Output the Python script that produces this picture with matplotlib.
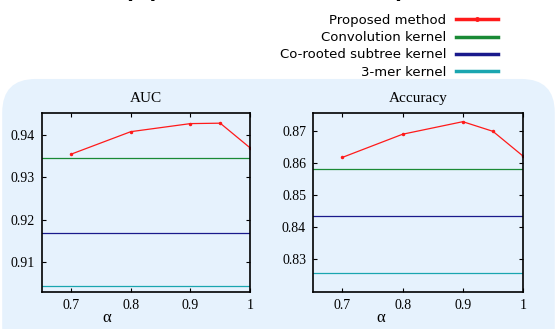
import matplotlib
matplotlib.use('agg')
import matplotlib.pyplot as plt
from matplotlib.patches import FancyBboxPatch
from matplotlib.lines import Line2D

# data
alpha = [0.7, 0.8, 0.9, 0.95, 1.0]
auc_proposed = [0.9355, 0.9408, 0.9427, 0.9428, 0.9370]
auc_conv = 0.9345
auc_corooted = 0.9169
auc_3mer = 0.9044
acc_proposed = [0.8617, 0.8689, 0.8728, 0.8698, 0.8621]
acc_conv = 0.8581
acc_corooted = 0.8435
acc_3mer = 0.8258

auc_ticks = [0.91, 0.92, 0.93, 0.94]
acc_ticks = [0.83, 0.84, 0.85, 0.86, 0.87]
alpha_ticks = [0.7, 0.8, 0.9, 1.0]
alpha_ticklabels = ['0.7', '0.8', '0.9', '1']

labels = ['Proposed method', 'Convolution kernel', 'Co-rooted subtree kernel', '3-mer kernel']
colors = ['#ff1a1a', '#1a8a35', '#1a1a8c', '#1aa6b0']

fig = plt.figure(figsize=(5.57, 3.29), dpi=100)

# light blue rounded panel behind the plots
panel = FancyBboxPatch((0.004, -0.1), 0.992, 0.86, boxstyle='round,pad=0,rounding_size=0.06',
                       transform=fig.transFigure, facecolor='#e6f2fd', edgecolor='none',
                       mutation_aspect=557 / 329, zorder=-5)
fig.patches.append(panel)

# top title, mostly cut off in the reference
fig.text(0.475, 1 + 2 / 329, '(a) Performance vs. \u03b1)', ha='center', va='baseline',
         fontsize=16, fontweight='bold')

serif = 'Liberation Serif'


def panel_plot(ax, proposed, conv, corooted, mer3, ylim, yticks, title):
    ax.set_facecolor('#e6f2fd')
    ax.plot(alpha, proposed, color=colors[0], lw=0.9, marker='.', ms=3)
    ax.axhline(conv, color=colors[1], lw=0.9)
    ax.axhline(corooted, color=colors[2], lw=0.9)
    ax.axhline(mer3, color=colors[3], lw=0.9)
    ax.set_xlim(0.651, 1.0)
    ax.set_ylim(*ylim)
    ax.set_xticks(alpha_ticks)
    ax.set_xticklabels(alpha_ticklabels)
    ax.set_yticks(yticks)
    ax.set_yticklabels(['%.2f' % t for t in yticks])
    ax.tick_params(direction='in', length=3, width=0.8, top=True, right=True,
                   labelsize=10, pad=5)
    for lab in ax.get_xticklabels() + ax.get_yticklabels():
        lab.set_family(serif)
    for s in ax.spines.values():
        s.set_linewidth(1.2)
    ax.set_title(title, family=serif, fontsize=11, pad=8)
    ax.set_xlabel('\u03b1', family=serif, fontsize=12, labelpad=1)
    ax.xaxis.set_label_coords(0.31, -0.1)


ax1 = fig.add_axes([42 / 557, 1 - 292 / 329, 208 / 557, 179 / 329])
panel_plot(ax1, auc_proposed, auc_conv, auc_corooted, auc_3mer,
           (0.903, 0.9452), auc_ticks, 'AUC')

ax2 = fig.add_axes([313 / 557, 1 - 292 / 329, 210 / 557, 179 / 329])
panel_plot(ax2, acc_proposed, acc_conv, acc_corooted, acc_3mer,
           (0.8198, 0.8755), acc_ticks, 'Accuracy')
ax2.xaxis.set_label_coords(0.324, -0.1)

handles = [Line2D([], [], color=colors[0], lw=2.5, marker='.', ms=5)]
handles += [Line2D([], [], color=c, lw=2.5) for c in colors[1:]]
fig.legend(handles, labels, loc='upper right', bbox_to_anchor=(498 / 557, 1 - 14 / 329),
           frameon=False, markerfirst=False, fontsize=9.5, handlelength=3.2,
           labelspacing=0.32, handletextpad=0.7, borderaxespad=0, borderpad=0)

plt.savefig('out.png', dpi=100)
plt.close()
